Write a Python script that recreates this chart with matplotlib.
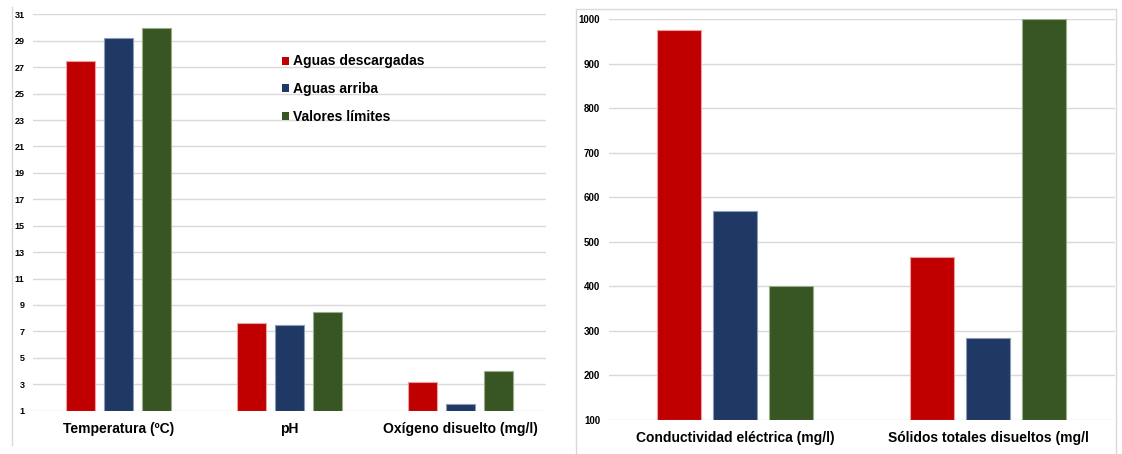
import matplotlib.pyplot as plt
from matplotlib.patches import Patch
from matplotlib.lines import Line2D
import numpy as np

# Datos
series = ['Aguas descargadas', 'Aguas arriba', 'Valores límites']
colores = ['#C00000', '#1F3864', '#375623']
bordes = ['#E8A0A0', '#8C9CB8', '#9AAE8C']

cat_izq = ['Temperatura (ºC)', 'pH', 'Oxígeno disuelto (mg/l)']
descargadas_izq = [27.5, 7.6, 3.2]
arriba_izq = [29.2, 7.5, 1.5]
limites_izq = [30.0, 8.5, 4.0]

cat_der = ['Conductividad eléctrica (mg/l)', 'Sólidos totales disueltos (mg/l']
descargadas_der = [975, 465]
arriba_der = [570, 285]
limites_der = [400, 1000]

ticks_izq = list(range(1, 32, 2))
ticks_der = list(range(100, 1001, 100))

plt.rcParams['font.family'] = ['Liberation Sans', 'DejaVu Sans']
plt.rcParams['font.weight'] = 'bold'

W, H = 1122, 454
fig = plt.figure(figsize=(W / 100, H / 100), dpi=100)


def caja(x0, x1, ytop, ybot):
    # posicion en pixeles -> fraccion de figura
    return [x0 / W, 1 - ybot / H, (x1 - x0) / W, (ybot - ytop) / H]


ax1 = fig.add_axes(caja(33, 546, 14.3, 410.7))
ax2 = fig.add_axes(caja(608.5, 1114.5, 19, 420))


def barras(ax, categorias, valores, base, tam_tick, pad_cat):
    x = np.arange(len(categorias))
    ancho = 0.1725
    paso = 0.222
    for i, vals in enumerate(valores):
        alturas = np.array(vals) - base
        ax.bar(x + (i - 1) * paso, alturas, width=ancho, bottom=base,
               color=colores[i], edgecolor=bordes[i], linewidth=0.8,
               zorder=3, label=series[i])
    ax.set_xlim(-0.5, len(categorias) - 0.5)
    ax.set_xticks(x)
    ax.set_xticklabels(categorias, fontsize=10, fontweight='bold')
    ax.tick_params(axis='x', length=0, pad=pad_cat)
    ax.tick_params(axis='y', length=0, labelsize=tam_tick)
    ax.yaxis.grid(True, color='#D9D9D9', linewidth=1.0, zorder=0)
    for s in ax.spines.values():
        s.set_visible(False)


barras(ax1, cat_izq, [descargadas_izq, arriba_izq, limites_izq], 1, 6.5, 8.4)
ax1.set_ylim(1, 31)
ax1.set_yticks(ticks_izq)
ax1.tick_params(axis='y', pad=6)
for lab in ax1.get_yticklabels():
    lab.set_fontweight('bold')

barras(ax2, cat_der, [descargadas_der, arriba_der, limites_der], 100, 7, 7.7)
ax2.set_ylim(100, 1000)
ax2.set_yticks(ticks_der)
ax2.tick_params(axis='y', pad=6)
for lab in ax2.get_yticklabels():
    lab.set_fontweight('bold')

# Leyenda
manijas = [Patch(facecolor=c, edgecolor='none') for c in colores]
fig.legend(manijas, series, loc='upper left',
           bbox_to_anchor=(281.7 / W, 1 - 54.5 / H), frameon=False,
           prop={'size': 10, 'weight': 'bold'}, handlelength=0.5,
           handleheight=0.5, handletextpad=0.3, labelspacing=0.98,
           borderpad=0, borderaxespad=0)

# Bordes de los paneles
fig.add_artist(Line2D([12 / W, 12 / W], [1 - 7 / H, 1 - 445 / H],
                      color='#D9D9D9', linewidth=1.0))
fig.add_artist(Line2D([576 / W, 576 / W, 1116 / W, 1116 / W],
                      [0, 1 - 9 / H, 1 - 9 / H, 0],
                      color='#D9D9D9', linewidth=1.0))

fig.savefig('out.png', dpi=100)
